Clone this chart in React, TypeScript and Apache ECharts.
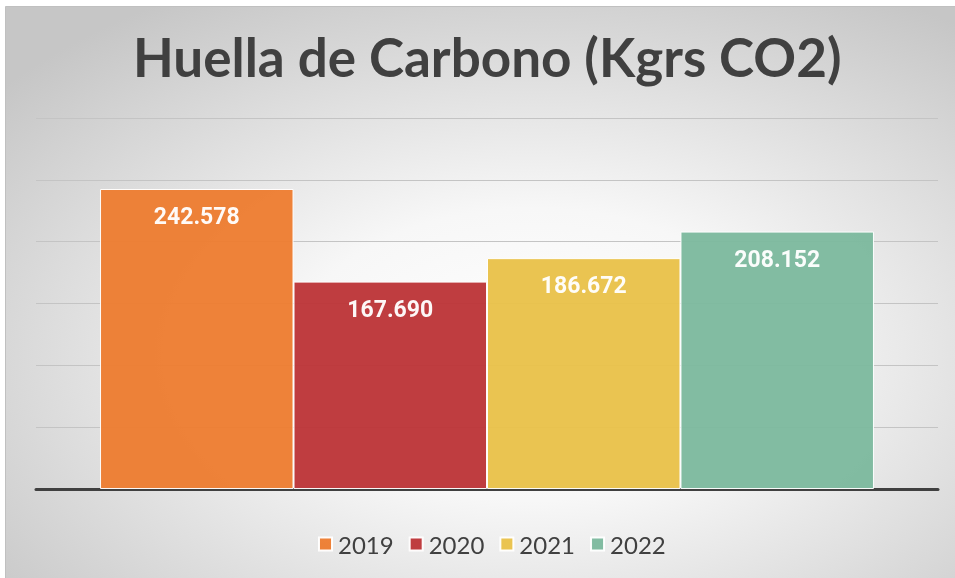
import React, { useEffect, useRef } from "react";
import * as echarts from "echarts";

const years = ["2019", "2020", "2021", "2022"];
const values = [242578, 167690, 186672, 208152];
const colors = ["#ED7D31", "#BC3538", "#E9C24A", "#7DB99E"];
const titleText = "Huella de Carbono (Kgrs CO2)";

function fmt(v: number): string {
  return String(Math.round(v)).replace(/\B(?=(\d{3})+(?!\d))/g, ".");
}

export default function App() {
  const ref = useRef<HTMLDivElement>(null);
  useEffect(() => {
    if (!ref.current) return;
    const chart = echarts.init(ref.current, null, { renderer: "svg" });
    chart.setOption({
      animation: false,
      graphic: [
        {
          type: "rect",
          z: -10,
          silent: true,
          shape: { x: 5.5, y: 6.5, width: 960, height: 580 },
          style: {
            fill: new echarts.graphic.RadialGradient(0.55, 0.6, 0.72, [
              { offset: 0, color: "#ffffff" },
              { offset: 0.35, color: "#f7f7f7" },
              { offset: 1, color: "#c6c6c6" },
            ]),
            stroke: "#c0c0c0",
            lineWidth: 1,
          },
        },
      ],
      title: {
        text: titleText,
        left: 128,
        top: 25,
        textStyle: {
          fontFamily: "Lato",
          fontWeight: "bold",
          fontSize: 53,
          color: "#404040",
        },
      },
      legend: {
        data: years,
        top: 527,
        left: 313,
        itemWidth: 13,
        itemHeight: 13,
        itemGap: 15,
        icon: "rect",
        textStyle: { fontFamily: "Lato", fontSize: 24, color: "#404040", padding: [0, 0, 0, 1] },
      },
      grid: { left: 36, right: 17, top: 118, bottom: 89 },
      xAxis: {
        type: "category",
        data: [""],
        axisLine: { show: true, lineStyle: { color: "#404040", width: 3 } },
        axisTick: { show: false },
        axisLabel: { show: false },
      },
      yAxis: {
        type: "value",
        min: 0,
        max: 300000,
        interval: 50000,
        axisLabel: { show: false },
        axisLine: { show: false },
        axisTick: { show: false },
        splitLine: { lineStyle: { color: "#c4c4c4", width: 1 } },
      },
      series: years.map((y, i) => ({
        name: y,
        type: "bar",
        data: [values[i]],
        barGap: "0%",
        barCategoryGap: "14.2%",
        itemStyle: { color: colors[i], borderColor: "#ffffff", borderWidth: 1, opacity: 0.96 },
        label: {
          show: true,
          position: "insideTop",
          distance: 16,
          formatter: (p: any) => fmt(p.value),
          fontFamily: "Roboto",
          fontWeight: "bold",
          fontSize: 23,
          color: "#ffffff",
        },
      })),
    });
    return () => chart.dispose();
  }, []);
  return (
    <div
      ref={ref}
      style={{ position: "fixed", left: 0, top: 0, width: 955, height: 578 }}
    />
  );
}
